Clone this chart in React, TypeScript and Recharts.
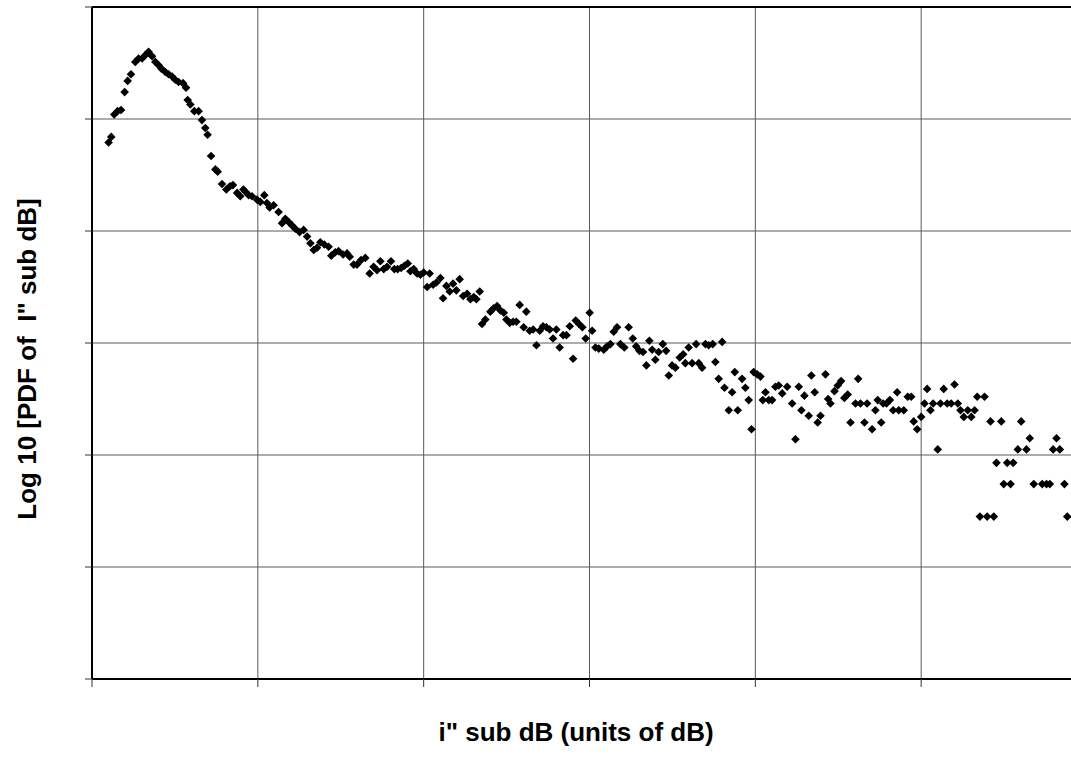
import React from "react";
import {
  ScatterChart,
  Scatter,
  XAxis,
  YAxis,
  CartesianGrid,
  ReferenceLine,
  Label,
} from "recharts";

// x: i" sub dB (grid every 10 units), y: log10 PDF (grid every 1)
const xTicks = [0, 10, 20, 30, 40, 50, 60];
const yTicks = [-6, -5, -4, -3, -2, -1, 0];

const xLabel = 'i" sub dB (units of dB)';
const yLabel = 'Log 10 [PDF of  I" sub dB]';

const peakSegment: [number, number][] = [
  [1.0, -1.21], [1.16, -1.16], [1.34, -0.96], [1.54, -0.93], [1.75, -0.92], [1.97, -0.76],
  [2.15, -0.66], [2.35, -0.6], [2.61, -0.49], [2.81, -0.46], [3.02, -0.46], [3.21, -0.43],
  [3.41, -0.4], [3.62, -0.44], [3.82, -0.49], [4.02, -0.52], [4.18, -0.55], [4.42, -0.58],
  [4.62, -0.6], [4.83, -0.62], [5.02, -0.65], [5.22, -0.67], [5.49, -0.68], [5.67, -0.72],
  [5.77, -0.83], [5.93, -0.87], [6.17, -0.93], [6.43, -0.93], [6.63, -1.01], [6.83, -1.08],
  [6.97, -1.14], [7.18, -1.33], [7.44, -1.45], [7.58, -1.47], [7.84, -1.58], [8.1, -1.63],
  [8.32, -1.6], [8.5, -1.59], [8.75, -1.66], [8.94, -1.69], [9.13, -1.63], [9.25, -1.65],
  [9.45, -1.68], [9.65, -1.69],
];

const shoulderSegment: [number, number][] = [
  [9.95, -1.72], [10.15, -1.74], [10.39, -1.68], [10.55, -1.75], [10.71, -1.79], [10.95, -1.77],
  [11.25, -1.83], [11.46, -1.93], [11.66, -1.89], [11.86, -1.92], [12.06, -1.95], [12.26, -1.98],
  [12.52, -2.01], [12.76, -1.99], [12.97, -2.05], [13.17, -2.11], [13.37, -2.17], [13.57, -2.15],
  [13.77, -2.1], [14.01, -2.12], [14.27, -2.14], [14.43, -2.22], [14.67, -2.19], [14.87, -2.18],
  [15.14, -2.21], [15.38, -2.2], [15.54, -2.23], [15.78, -2.3], [15.98, -2.3], [16.22, -2.26],
  [16.48, -2.24], [16.74, -2.38], [16.98, -2.32], [17.19, -2.35], [17.39, -2.27], [17.59, -2.34],
  [17.79, -2.32], [18.03, -2.27], [18.23, -2.34], [18.43, -2.34], [18.64, -2.33], [18.84, -2.31],
  [19.04, -2.29], [19.2, -2.36], [19.4, -2.34], [19.6, -2.38], [19.8, -2.39],
];

const midSegment: [number, number][] = [
  [20.0, -2.37], [20.21, -2.5], [20.36, -2.38], [20.57, -2.48], [20.77, -2.46], [21.01, -2.42],
  [21.17, -2.6], [21.37, -2.49], [21.57, -2.54], [21.77, -2.47], [21.97, -2.53], [22.17, -2.43],
  [22.38, -2.58], [22.62, -2.56], [22.82, -2.61], [23.02, -2.59], [23.18, -2.61], [23.38, -2.54],
  [23.52, -2.83], [23.72, -2.79], [24.02, -2.72], [24.22, -2.69], [24.43, -2.67], [24.63, -2.71],
  [24.83, -2.73], [24.99, -2.79], [25.19, -2.82], [25.39, -2.81], [25.59, -2.81], [25.79, -2.66],
  [26.03, -2.86], [26.19, -2.72], [26.39, -2.89], [26.6, -2.88], [26.8, -3.02], [27.0, -2.89],
  [27.2, -2.85], [27.4, -2.86], [27.6, -2.88], [27.8, -2.96], [28.0, -2.88], [28.2, -3.04],
  [28.41, -2.93], [28.61, -2.93], [28.81, -2.85], [29.01, -3.14], [29.17, -2.8], [29.37, -2.83],
  [29.57, -2.86], [29.77, -2.96],
];

const upperTailSegment: [number, number][] = [
  [30.01, -2.73], [30.16, -2.89], [30.36, -3.04], [30.56, -3.05], [30.86, -3.06], [31.06, -3.03],
  [31.26, -3.01], [31.46, -2.9], [31.66, -2.86], [31.86, -3.01], [32.1, -3.04], [32.36, -2.86],
  [32.61, -2.96], [32.81, -3.03], [33.01, -3.07], [33.23, -3.08], [33.43, -3.2], [33.61, -2.98],
  [33.78, -3.06], [33.97, -3.15], [34.17, -3.08], [34.42, -3.01], [34.62, -3.07], [34.78, -3.29],
  [34.98, -3.2], [35.18, -3.22], [35.44, -3.13], [35.65, -3.1], [35.78, -3.18], [35.98, -3.04],
  [36.19, -3.18], [36.43, -3.01], [36.59, -3.18], [36.79, -3.22], [36.99, -3.01], [37.19, -3.02],
  [37.43, -3.01], [37.59, -3.17], [37.79, -3.32], [38.0, -2.99], [38.14, -3.4], [38.4, -3.6],
  [38.6, -3.44], [38.76, -3.26], [38.94, -3.6], [39.2, -3.32], [39.4, -3.4], [39.6, -3.51],
  [39.77, -3.77], [39.9, -3.26],
];

const lowerTailSegment: [number, number][] = [
  [40.11, -3.28], [40.31, -3.3], [40.45, -3.51], [40.61, -3.44], [40.81, -3.51], [41.01, -3.51],
  [41.21, -3.39], [41.41, -3.38], [41.62, -3.45], [41.92, -3.39], [42.22, -3.54], [42.42, -3.86],
  [42.62, -3.39], [42.78, -3.6], [42.96, -3.47], [43.22, -3.65], [43.38, -3.29], [43.58, -3.44],
  [43.76, -3.71], [43.93, -3.65], [44.23, -3.28], [44.39, -3.5], [44.53, -3.54], [44.77, -3.43],
  [44.97, -3.38], [45.17, -3.34], [45.37, -3.49], [45.57, -3.46], [45.74, -3.71], [46.04, -3.54],
  [46.2, -3.32], [46.34, -3.54], [46.58, -3.71], [46.74, -3.54], [47.04, -3.77], [47.24, -3.6],
  [47.38, -3.51], [47.59, -3.71], [47.71, -3.54], [47.91, -3.54], [48.11, -3.51], [48.31, -3.6],
  [48.55, -3.44], [48.65, -3.6], [48.95, -3.6], [49.19, -3.48], [49.4, -3.48], [49.55, -3.7],
  [49.76, -3.77],
];

const farTailSegment: [number, number][] = [
  [50.0, -3.66], [50.2, -3.54], [50.36, -3.41], [50.56, -3.6], [50.72, -3.54], [51.0, -3.95],
  [51.16, -3.54], [51.36, -3.41], [51.57, -3.54], [51.81, -3.54], [52.01, -3.37], [52.21, -3.54],
  [52.37, -3.6], [52.57, -3.66], [52.81, -3.6], [53.02, -3.66], [53.22, -3.6], [53.38, -3.48],
  [53.54, -4.55], [53.82, -3.48], [53.98, -4.55], [54.18, -3.7], [54.38, -4.55], [54.54, -4.07],
  [54.83, -3.7], [54.98, -4.26], [55.19, -4.07], [55.39, -4.26], [55.55, -4.07], [55.83, -3.95],
  [56.03, -3.7], [56.35, -3.95], [56.55, -3.85], [56.79, -4.26], [57.3, -4.26], [57.56, -4.26],
  [57.76, -4.26], [57.96, -3.95], [58.16, -3.85], [58.36, -3.95], [58.64, -4.26], [58.81, -4.55],
];

const points = [
  ...peakSegment,
  ...shoulderSegment,
  ...midSegment,
  ...upperTailSegment,
  ...lowerTailSegment,
  ...farTailSegment,
].map(([x, y]) => ({ x, y }));

const FONT = '"Liberation Sans", Arial, Helvetica, sans-serif';

const Diamond = (props: any) => {
  const { cx, cy } = props;
  if (cx == null || cy == null) return null;
  const r = 4.3;
  return (
    <polygon
      points={`${cx},${cy - r} ${cx + r},${cy} ${cx},${cy + r} ${cx - r},${cy}`}
      fill="#000"
    />
  );
};

const NoTick = () => <g />;

const XTitle = () => (
  <text
    x={576}
    y={741}
    textAnchor="middle"
    fontFamily={FONT}
    fontWeight="bold"
    fontSize={26}
    fill="#000"
  >
    {xLabel}
  </text>
);

const YTitle = () => (
  <text
    x={36}
    y={359}
    transform="rotate(-90, 36, 359)"
    textAnchor="middle"
    fontFamily={FONT}
    fontWeight="bold"
    fontSize={26}
    fill="#000"
    style={{ whiteSpace: "pre" }}
  >
    {yLabel}
  </text>
);

export default function App() {
  return (
    <div
      style={{
        position: "absolute",
        left: 0,
        top: 0,
        width: 1071,
        height: 769,
        overflow: "hidden",
        background: "#fff",
      }}
    >
      <ScatterChart
        width={1100}
        height={769}
        margin={{ top: 7, right: 13, bottom: 0, left: 0 }}
      >
        <CartesianGrid stroke="#5a5a5a" strokeWidth={1} />
        <XAxis
          type="number"
          dataKey="x"
          domain={[0, 60]}
          ticks={xTicks}
          interval={0}
          height={90}
          tick={<NoTick />}
          tickSize={8}
          tickLine={{ stroke: "#333", strokeWidth: 1 }}
          axisLine={{ stroke: "#000", strokeWidth: 2 }}
          allowDataOverflow
        >
          <Label content={<XTitle />} />
        </XAxis>
        <YAxis
          type="number"
          dataKey="y"
          domain={[-6, 0]}
          ticks={yTicks}
          interval={0}
          width={92}
          tick={<NoTick />}
          tickSize={7}
          tickLine={{ stroke: "#333", strokeWidth: 1 }}
          axisLine={{ stroke: "#000", strokeWidth: 2 }}
          allowDataOverflow
        >
          <Label content={<YTitle />} />
        </YAxis>
        <ReferenceLine y={0} stroke="#000" strokeWidth={2} />
        <Scatter
          data={points}
          shape={<Diamond />}
          isAnimationActive={false}
        />
      </ScatterChart>
    </div>
  );
}
